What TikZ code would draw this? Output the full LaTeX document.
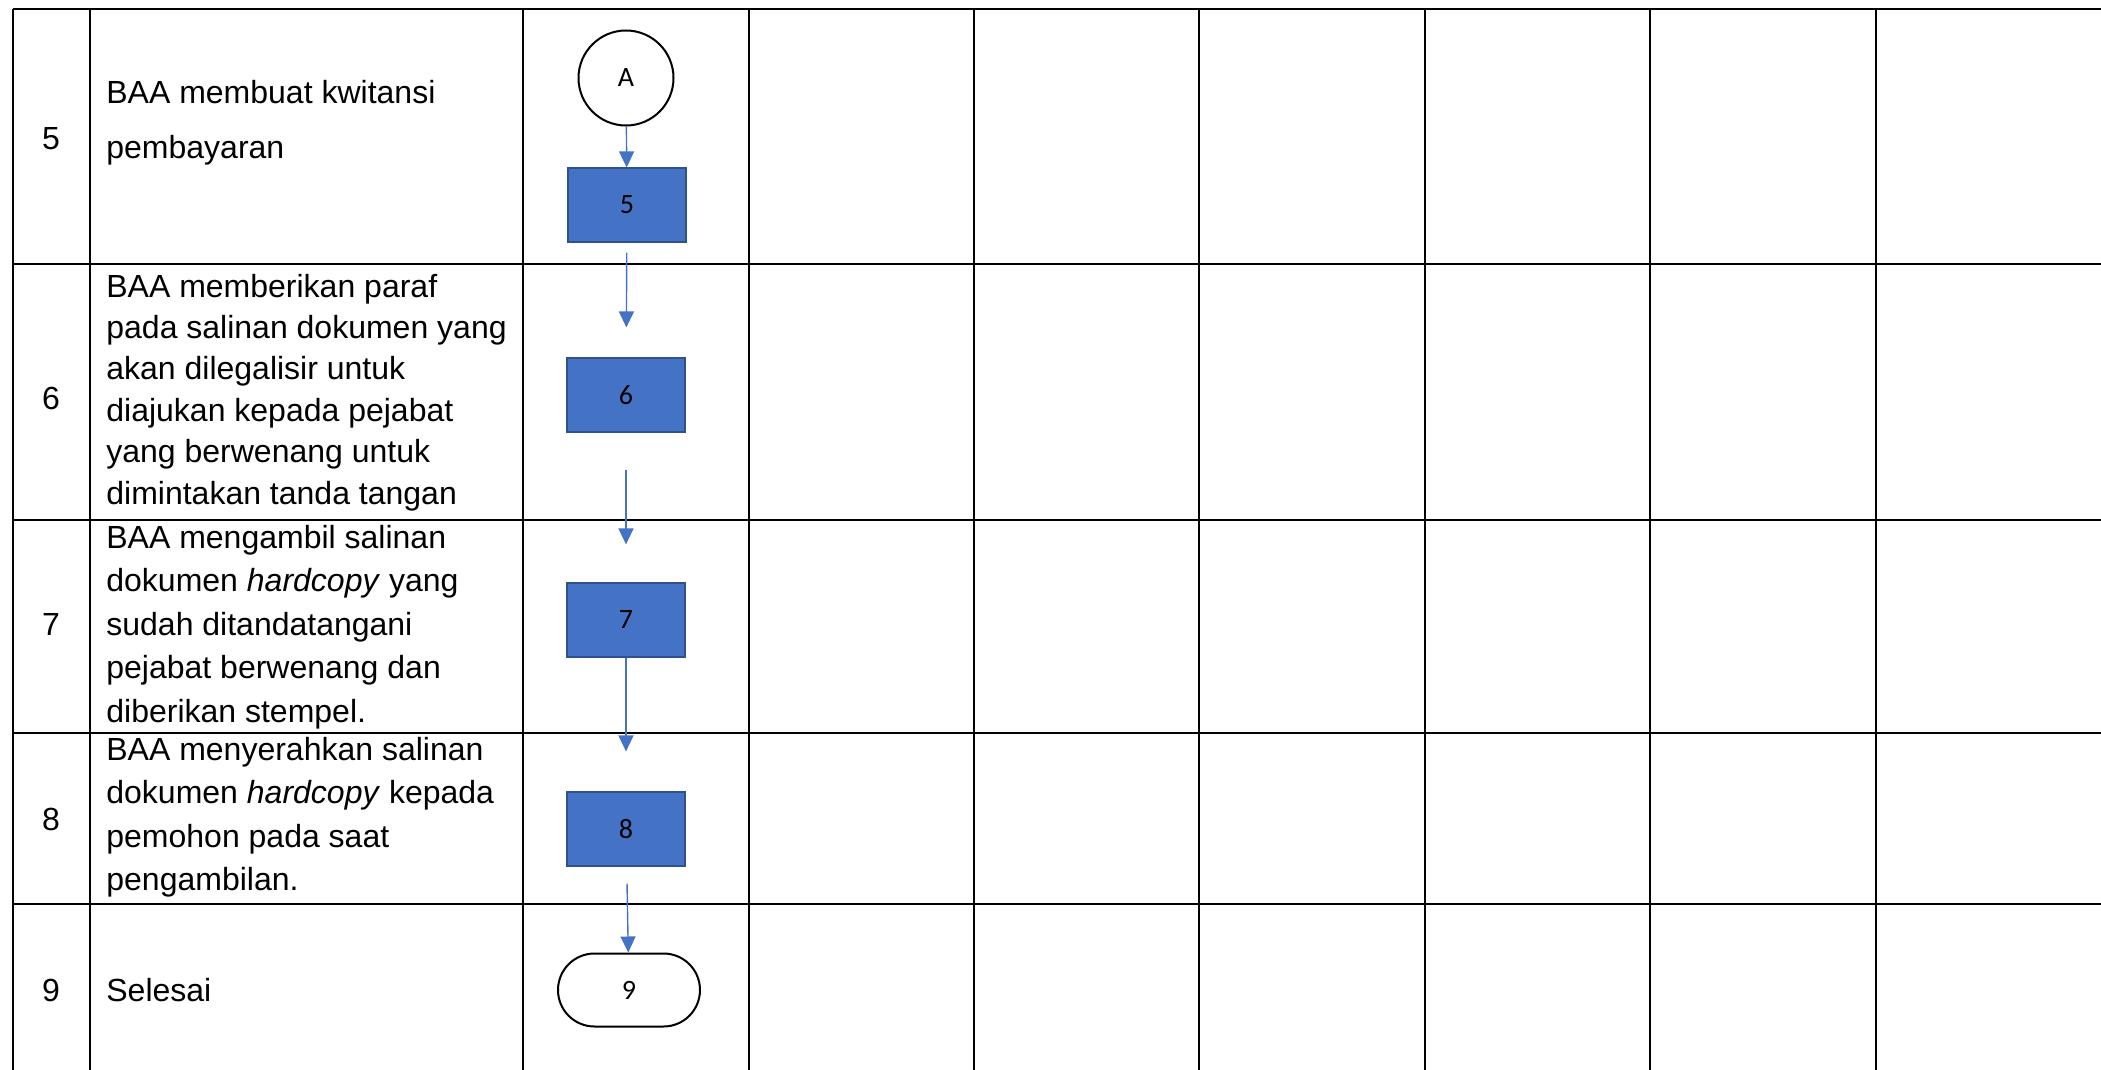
\documentclass[tikz,border=0pt]{standalone}
\usepackage{fontspec}
\setmainfont{Liberation Sans}
\newfontfamily\calibri{Carlito}
\usetikzlibrary{arrows.meta,shapes.misc,positioning}

\definecolor{flowblue}{HTML}{4472C4}
\definecolor{flowedge}{HTML}{2F528F}

\begin{document}
\begin{tikzpicture}[x=0.5pt, y=-0.5pt,
    grid/.style={line width=1.4pt, black},
    process/.style={rectangle, draw=flowedge, fill=flowblue, line width=0.8pt,
      minimum width=58.8pt, minimum height=36.8pt, inner sep=0pt,
      font=\calibri\fontsize{14}{16}\selectfont},
    connector/.style={circle, draw=black, line width=1pt, minimum size=47.5pt,
      inner sep=0pt, font=\calibri\fontsize{14}{16}\selectfont},
    terminator/.style={rounded rectangle, draw=black, line width=1pt,
      minimum width=71pt, minimum height=36.5pt, inner sep=0pt,
      font=\calibri\fontsize{14}{16}\selectfont},
    flow/.style={draw=flowblue, line width=0.7pt, -{Triangle[width=7.5pt,length=8pt]}},
    stepno/.style={anchor=base, inner sep=0pt, font=\fontsize{16}{21.75}\selectfont},
    steptext/.style={anchor=base west, inner sep=0pt, font=\fontsize{16}{21.75}\selectfont},
  ]
  \useasboundingbox (0,0) rectangle (2101,1070);

  % table grid
  \foreach \y in {9,264,520,733,904}
    \draw[grid] (13,\y) -- (2101,\y);
  \foreach \x in {13,90,523,749,974,1199,1425,1650,1876}
    \draw[grid] (\x,9) -- (\x,1070);

  % step numbers
  \node[stepno] (no5) at (51,150) {5};
  \node[stepno] (no6) at (51,409) {6};
  \node[stepno] (no7) at (51,635) {7};
  \node[stepno] (no8) at (51,830) {8};
  \node[stepno] (no9) at (51,1001) {9};

  % step descriptions
  \node[steptext] (desc5) at (106,104) {\parbox[t]{240pt}{\baselineskip=27.5pt
    BAA membuat kwitansi\\pembayaran}};
  \node[steptext] (desc6) at (106,297) {\parbox[t]{240pt}{\baselineskip=20.75pt
    BAA memberikan paraf\\pada salinan dokumen yang\\akan dilegalisir untuk\\
    diajukan kepada pejabat\\yang berwenang untuk\\dimintakan tanda tangan}};
  \node[steptext] (desc7) at (106,548) {\parbox[t]{240pt}{
    BAA mengambil salinan\\dokumen \textit{hardcopy} yang\\sudah ditandatangani\\
    pejabat berwenang dan\\diberikan stempel.}};
  \node[steptext] (desc8) at (106,760) {\parbox[t]{240pt}{
    BAA menyerahkan salinan\\dokumen \textit{hardcopy} kepada\\pemohon pada saat\\
    pengambilan.}};
  \node[steptext] (desc9) at (106,1001) {Selesai};

  % flow symbols
  \node[connector] (A) at (626,78) {A};
  \node[process] (box5) at (627,205) {5};
  \node[process] (box6) at (626,395) {6};
  \node[process] (box7) at (626,620) {7};
  \node[process] (box8) at (626,829) {8};
  \node[terminator] (end9) at (629,990) {9};

  \draw[flow] (A) -- (box5);
  \draw[flow, shorten <=5pt, shorten >=15pt] (box5) -- (box6);
  \draw[flow, shorten <=18.5pt, shorten >=19pt] (box6) -- (box7);
  \draw[flow, shorten >=20pt] (box7) -- (box8);
  \draw[flow, shorten <=8.5pt] (box8) -- (end9);
\end{tikzpicture}
\end{document}
